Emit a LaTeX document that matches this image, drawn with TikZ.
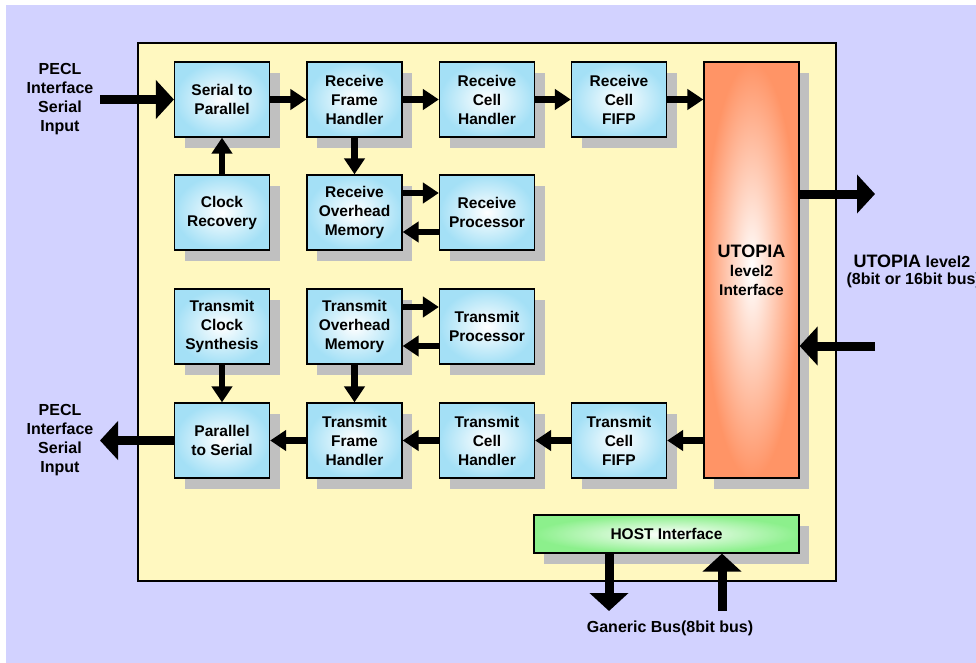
\documentclass[tikz,border=0pt]{standalone}
\usepackage{fontspec}
\setmainfont{Liberation Sans}
\usetikzlibrary{arrows.meta,shadows}
\definecolor{lav}{HTML}{D2D2FF}
\definecolor{panel}{HTML}{FFF8C0}
\definecolor{blueedge}{HTML}{A4E0F6}
\definecolor{orangeedge}{HTML}{FF9466}
\definecolor{greenedge}{HTML}{8CF08C}
\definecolor{shadowgray}{HTML}{C0C0C0}
\begin{document}
\begin{tikzpicture}[x=1pt,y=-1pt,
 shad/.style={general shadow={fill=shadowgray, shadow xshift=10pt, shadow yshift=-11pt}},
 blk/.style={draw=black, line width=1.2pt, minimum width=95pt, minimum height=75pt, inner sep=0pt, align=center,
   font=\fontsize{15.5}{19}\selectfont\bfseries, inner color=white, outer color=blueedge, shad},
 arr/.style={line width=6.5pt, -{Triangle[width=20pt,length=16pt]}},
 bigarr/.style={line width=9pt, -{Triangle[width=38pt,length=18pt]}},
 lbl/.style={align=center, font=\fontsize{16}{19}\selectfont\bfseries}]
\useasboundingbox (0,0) rectangle (976,663);
\fill[white] (0,0) rectangle (976,663);
\fill[lav] (6,5) rectangle (976,663);
\draw[line width=1.2pt, fill=panel] (138,43) rectangle (836,581);

% row 1
\node[blk] (s2p) at (222,99.5) {Serial to\\Parallel};
\node[blk] (rfh) at (354.5,99.5) {Receive\\Frame\\Handler};
\node[blk] (rch) at (487,99.5) {Receive\\Cell\\Handler};
\node[blk] (rcf) at (619,99.5) {Receive\\Cell\\FIFP};
% row 2
\node[blk] (clk) at (222,212.5) {Clock\\Recovery};
\node[blk] (rom) at (354.5,212.5) {Receive\\Overhead\\Memory};
\node[blk] (rp) at (487,212.5) {Receive\\Processor};
% row 3
\node[blk] (tcs) at (222,326.5) {Transmit\\Clock\\Synthesis};
\node[blk] (tom) at (354.5,326.5) {Transmit\\Overhead\\Memory};
\node[blk] (tp) at (487,326.5) {Transmit\\Processor};
% row 4
\node[blk] (p2s) at (222,440.5) {Parallel\\to Serial};
\node[blk] (tfh) at (354.5,440.5) {Transmit\\Frame\\Handler};
\node[blk] (tch) at (487,440.5) {Transmit\\Cell\\Handler};
\node[blk] (tcf) at (619,440.5) {Transmit\\Cell\\FIFP};

% UTOPIA
\node[blk, minimum height=416pt, inner color=white, outer color=orangeedge] (utp) at (751.5,270)
  {{\fontsize{18}{19}\selectfont UTOPIA}\\level2\\Interface};
% HOST
\node[blk, minimum width=265pt, minimum height=38pt, inner color=white, outer color=greenedge] (host) at (666.5,534)
  {HOST Interface};

% internal arrows
\draw[arr] (s2p) -- (rfh);
\draw[arr] (rfh) -- (rch);
\draw[arr] (rch) -- (rcf);
\draw[arr] (rcf.east) -- (rcf.east -| utp.west);
\draw[arr] (clk) -- (s2p);
\draw[arr] (rfh) -- (rom);
\draw[arr] ([yshift=19.5pt]rom.east) -- ([yshift=19.5pt]rp.west);
\draw[arr] ([yshift=-19.5pt]rp.west) -- ([yshift=-19.5pt]rom.east);
\draw[arr] (tcs) -- (p2s);
\draw[arr] (tom) -- (tfh);
\draw[arr] ([yshift=19.5pt]tom.east) -- ([yshift=19.5pt]tp.west);
\draw[arr] ([yshift=-19.5pt]tp.west) -- ([yshift=-19.5pt]tom.east);
\draw[arr] (tcf.east -| utp.west) -- (tcf.east);
\draw[arr] (tcf) -- (tch);
\draw[arr] (tch) -- (tfh);
\draw[arr] (tfh) -- (p2s);

% external arrows
\coordinate (inL) at (100,99.5);
\coordinate (outL) at (100,440.5);
\coordinate (outR) at (875,194);
\coordinate (inR) at (875,346);
\coordinate (busD) at (609,611);
\coordinate (busU) at (722,611);
\draw[bigarr] (inL) -- (s2p.west);
\draw[bigarr] (p2s.west) -- (outL);
\draw[bigarr] (outR -| utp.east) -- (outR);
\draw[bigarr] (inR) -- (inR -| utp.east);
\draw[bigarr] (busD |- host.south) -- (busD);
\draw[bigarr] (busU) -- (busU |- host.south);

% labels
\node[lbl] (lin) at (60,99.5) {PECL\\Interface\\Serial\\Input};
\node[lbl] (lout) at (60,440) {PECL\\Interface\\Serial\\Input};
\node[lbl, anchor=west] (rlab1) at (850,261) {{\fontsize{18}{19}\selectfont UTOPIA} level2};
\node[lbl, anchor=west] (rlab2) at (843,280) {(8bit or 16bit bus)};
\node[lbl] (bus) at (670,628) {Ganeric Bus(8bit bus)};
\end{tikzpicture}
\end{document}
